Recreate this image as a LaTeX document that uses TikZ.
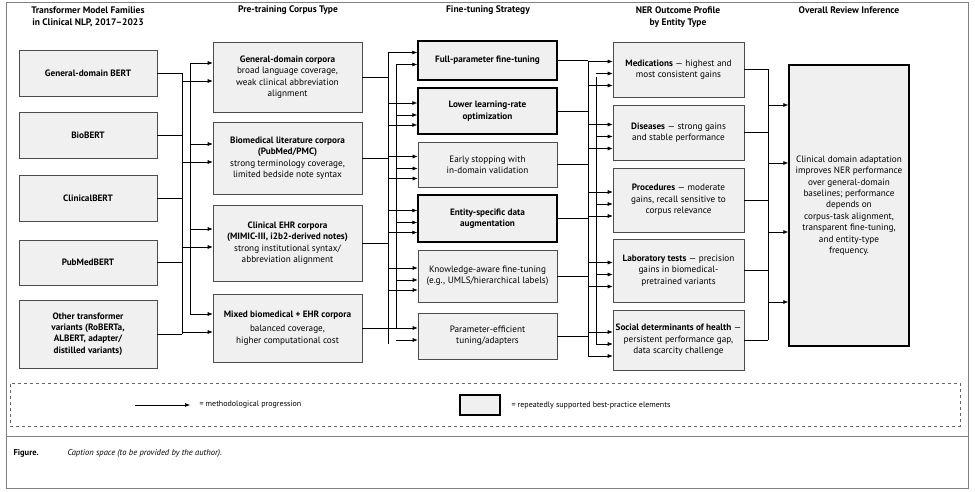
\documentclass[tikz,border=0pt]{standalone}
\usepackage{fontspec}
\setmainfont{PT Sans}
\usetikzlibrary{arrows.meta,calc}
\begin{document}
\begin{tikzpicture}[x=1pt,y=-1pt,
  box/.style={draw=black!70,fill=black!6,line width=0.6pt,align=center,inner sep=1pt,font=\fontsize{9.2}{11.4}\selectfont},
  best/.style={box,draw=black,line width=1.4pt},
  hdr/.style={font=\bfseries\fontsize{9.5}{11.5}\selectfont,align=center},
  con/.style={line width=0.6pt},
  arr/.style={con,-{Latex[length=5pt,width=4pt]}}]
\useasboundingbox (0,0) rectangle (975,492);
\draw[black!50,line width=0.5pt] (6,2) rectangle (968,488);
\draw[black!50,line width=0.5pt] (6,436) -- (968,436);
% headers
\node[hdr] (h1) at (88,17) {Transformer Model Families\\in Clinical NLP, 2017–2023};
\node[hdr] (h2) at (288,10) {Pre-training Corpus Type};
\node[hdr] (h3) at (488,10) {Fine-tuning Strategy};
\node[hdr] (h4) at (678,17) {NER Outcome Profile\\by Entity Type};
\node[hdr] (h5) at (849,10) {Overall Review Inference};
\newcommand\bx[7]{\node[#1,minimum width=#4-#3,minimum height=#6-#5] (#2) at ({(#3+#4)/2},{(#5+#6)/2}) {#7};}
% col1
\bx{box}{a1}{19}{157}{50}{96}{\bfseries General-domain BERT}
\bx{box}{a2}{19}{157}{112}{158}{\bfseries BioBERT}
\bx{box}{a3}{19}{157}{175}{221}{\bfseries ClinicalBERT}
\bx{box}{a4}{19}{157}{240}{285}{\bfseries PubMedBERT}
\bx{box}{a5}{19}{157}{300}{368}{\bfseries Other transformer\\\bfseries variants (RoBERTa,\\\bfseries ALBERT, adapter/\\\bfseries distilled variants)}
% col2
\bx{box}{b1}{213}{362}{42}{112}{\textbf{General-domain corpora}\\broad language coverage,\\weak clinical abbreviation\\alignment}
\bx{box}{b2}{213}{362}{122}{194}{\textbf{Biomedical literature corpora}\\\textbf{(PubMed/PMC)}\\strong terminology coverage,\\limited bedside note syntax}
\bx{box}{b3}{213}{362}{205}{281}{\textbf{Clinical EHR corpora}\\\textbf{(MIMIC-III, i2b2-derived notes)}\\strong institutional syntax/\\abbreviation alignment}
\bx{box}{b4}{213}{362}{294}{362}{\textbf{Mixed biomedical + EHR corpora}\\[3pt]balanced coverage,\\higher computational cost}
% col3
\bx{best}{c1}{418}{557}{41}{80}{\bfseries Full-parameter fine-tuning}
\bx{best}{c2}{418}{557}{88}{134}{\bfseries Lower learning-rate\\\bfseries optimization}
\bx{box}{c3}{418}{557}{142}{187}{Early stopping with\\in-domain validation}
\bx{best}{c4}{418}{557}{195}{242}{\bfseries Entity-specific data\\\bfseries augmentation}
\bx{box}{c5}{418}{557}{250}{302}{Knowledge-aware fine-tuning\\(e.g., UMLS/hierarchical labels)}
\bx{box}{c6}{418}{557}{313}{359}{Parameter-efficient\\tuning/adapters}
% col4
\bx{box}{d1}{613}{744}{42}{97}{\textbf{Medications} — highest and\\most consistent gains}
\bx{box}{d2}{613}{744}{105}{160}{\textbf{Diseases} — strong gains\\and stable performance}
\bx{box}{d3}{613}{744}{168}{232}{\textbf{Procedures} — moderate\\gains, recall sensitive to\\corpus relevance}
\bx{box}{d4}{613}{744}{239}{302}{\textbf{Laboratory tests} — precision\\gains in biomedical-\\pretrained variants}
\bx{box}{d5}{613}{744}{310}{370}{\textbf{Social determinants of health} —\\persistent performance gap,\\data scarcity challenge}
% col5
\node[best,minimum width=120,minimum height=281] (e1) at (849,205.5) {Clinical domain adaptation\\improves NER performance\\over general-domain\\baselines; performance\\depends on\\corpus-task alignment,\\transparent fine-tuning,\\and entity-type\\frequency.};
% buses
\coordinate (p1) at (182,0); \coordinate (p1b) at (190,0);
\coordinate (p2) at (388,0); \coordinate (p2b) at (396,0);
\coordinate (p3) at (588,0); \coordinate (p3b) at (596,0);
\coordinate (p4) at (768,0);
% col1 -> col2
\foreach \s in {a1,a2,a3,a4,a5} \draw[con] (\s.east) -- (\s.east -| p1);
\draw[con] (p1 |- a1.east) -- (p1 |- a5.east);
\draw[con] ($(p1b |- b1.west)+(0,-14)$) -- ($(p1b |- b4.west)+(0,-14)$);
\foreach \t in {b1,b2,b3,b4}{
  \draw[arr] ($(p1b |- \t.west)+(0,-14)$) -- ($(\t.west)+(0,-14)$);
  \draw[arr] ($(p1 |- \t.west)+(0,4)$) -- ($(\t.west)+(0,4)$);}
% col2 -> col3
\foreach \s in {b1,b2,b3,b4} \draw[con] (\s.east) -- (\s.east -| p2);
\draw[con] ($(p2 |- c1.west)+(0,-8)$) -- ($(p2 |- c6.west)+(0,8)$);
\draw[con] ($(p2b |- c1.west)+(0,4)$) -- ($(p2b |- c6.west)+(0,-8)$);
\foreach \t in {c1,c2,c3,c4,c5,c6}{
  \draw[arr] ($(p2 |- \t.west)+(0,-8)$) -- ($(\t.west)+(0,-8)$);
  \draw[arr] ($(p2b |- \t.west)+(0,4)$) -- ($(\t.west)+(0,4)$);}
\foreach \t in {c2,c3,c4,c5}
  \draw[arr] ($(p2 |- \t.west)+(0,14)$) -- ($(\t.west)+(0,14)$);
% col3 -> col4
\foreach \s in {c1,c2,c3,c4,c5,c6} \draw[con] (\s.east) -- (\s.east -| p3);
\draw[con] ($(p3 |- d1.west)+(0,-8)$) -- ($(p3 |- d5.west)+(0,16)$);
\draw[con] ($(p3b |- d1.west)+(0,8)$) -- ($(p3b |- d5.west)+(0,4)$);
\foreach \t in {d1,d2,d3,d4,d5}{
  \draw[arr] ($(p3 |- \t.west)+(0,-8)$) -- ($(\t.west)+(0,-8)$);
  \draw[arr] ($(p3b |- \t.west)+(0,4)$) -- ($(\t.west)+(0,4)$);
  \draw[arr] ($(p3 |- \t.west)+(0,16)$) -- ($(\t.west)+(0,16)$);}
% col4 -> col5
\foreach \s in {d1,d2,d3,d4,d5} \draw[con] (\s.east) -- (\s.east -| p4);
\draw[con] (p4 |- d1.east) -- (p4 |- d5.east);
\foreach \yy in {105,163,232,302} \draw[arr] (768,\yy) -- (e1.west |- 0,\yy);
% legend
\node[draw=black!60,dashed,line width=0.6pt,minimum width=950,minimum height=43] (lg) at (485,404.5) {};
\coordinate (la) at (135,405); \coordinate (lb) at (190,405);
\draw[arr] (la) -- (lb);
\node[anchor=west,font=\fontsize{8}{9}\selectfont] (lt1) at (196,405) {= methodological progression};
\node[best,minimum width=40,minimum height=20] (lbox) at (480,405) {};
\node[anchor=west,font=\fontsize{8}{9}\selectfont] (lt2) at (508,405) {= repeatedly supported best-practice elements};
% caption
\node[anchor=west,font=\bfseries\fontsize{8.5}{10}\selectfont] (f1) at (10,453) {Figure.};
\node[anchor=west,font=\itshape\fontsize{8.5}{10}\selectfont] (f2) at (64,453) {Caption space (to be provided by the author).};
\end{tikzpicture}
\end{document}
